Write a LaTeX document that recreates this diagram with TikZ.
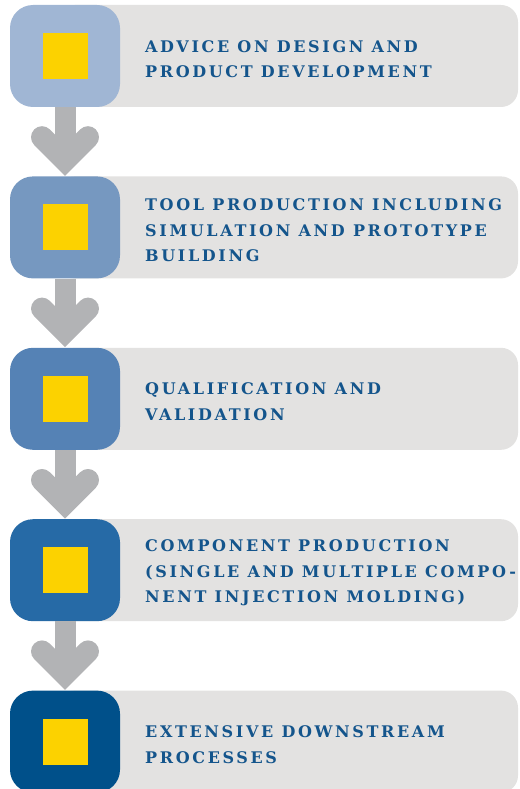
\documentclass[tikz,border=0pt]{standalone}
\usepackage{fontspec}
\newfontfamily\stagefont{DejaVu Serif}[LetterSpace=16.5]
\usetikzlibrary{positioning}

\definecolor{panelgrey}{HTML}{E3E2E1}
\definecolor{arrowgrey}{HTML}{B2B3B5}
\definecolor{markeryellow}{HTML}{FCD200}
\definecolor{textblue}{HTML}{14558C}
\definecolor{stageA}{HTML}{A0B6D4}
\definecolor{stageB}{HTML}{7698C0}
\definecolor{stageC}{HTML}{5582B5}
\definecolor{stageD}{HTML}{266AA6}
\definecolor{stageE}{HTML}{00508A}

\tikzset{
  panel/.style={fill=panelgrey, rounded corners=17pt, minimum width=460pt, minimum height=102pt, inner sep=0pt},
  stagebox/.style={rounded corners=23pt, minimum width=110pt, minimum height=102pt, inner sep=0pt},
  marker/.style={fill=markeryellow, minimum width=45pt, minimum height=46pt, inner sep=0pt},
  stagetext/.style={anchor=west, align=left, text=textblue, inner sep=0pt,
    font=\stagefont\bfseries\fontsize{16}{25.5}\selectfont},
  shaft/.style={draw=arrowgrey, line width=21pt},
  barb/.style={draw=arrowgrey, line width=22pt, line cap=round, line join=miter}
}

\begin{document}
\begin{tikzpicture}[x=1pt,y=1pt]
\useasboundingbox (0,0) rectangle (519,-789);

\node[panel] (g1) at (288,-56) {};
\node[panel, below=69pt of g1] (g2) {};
\node[panel, below=69pt of g2] (g3) {};
\node[panel, below=69pt of g3] (g4) {};
\node[panel, below=69pt of g4] (g5) {};

\node[stagebox, fill=stageA] (b1) at ([xshift=-223pt]g1.center) {};
\node[stagebox, fill=stageB] (b2) at ([xshift=-223pt]g2.center) {};
\node[stagebox, fill=stageC] (b3) at ([xshift=-223pt]g3.center) {};
\node[stagebox, fill=stageD] (b4) at ([xshift=-223pt]g4.center) {};
\node[stagebox, fill=stageE] (b5) at ([xshift=-223pt]g5.center) {};

\node[marker] (m1) at (b1) {};
\node[marker] (m2) at (b2) {};
\node[marker] (m3) at (b3) {};
\node[marker] (m4) at (b4) {};
\node[marker] (m5) at (b5) {};

\coordinate (t2) at ([yshift=16pt]b2.north);
\coordinate (t3) at ([yshift=16pt]b3.north);
\coordinate (t4) at ([yshift=16pt]b4.north);
\coordinate (t5) at ([yshift=16pt]b5.north);

\draw[shaft] (b1.south) -- (t2);
\draw[barb] ([shift={(-23,23)}]t2) -- (t2) -- ([shift={(23,23)}]t2);
\draw[shaft] (b2.south) -- (t3);
\draw[barb] ([shift={(-23,23)}]t3) -- (t3) -- ([shift={(23,23)}]t3);
\draw[shaft] (b3.south) -- (t4);
\draw[barb] ([shift={(-23,23)}]t4) -- (t4) -- ([shift={(23,23)}]t4);
\draw[shaft] (b4.south) -- (t5);
\draw[barb] ([shift={(-23,23)}]t5) -- (t5) -- ([shift={(23,23)}]t5);

\node[stagetext] (s1) at ([xshift=-143pt, yshift=-3pt]g1.center) {ADVICE ON DESIGN AND\\PRODUCT DEVELOPMENT};
\node[stagetext] (s2) at ([xshift=-143pt, yshift=-3pt]g2.center) {TOOL PRODUCTION INCLUDING\\SIMULATION AND PROTOTYPE\\BUILDING};
\node[stagetext] (s3) at ([xshift=-143pt, yshift=-3pt]g3.center) {QUALIFICATION AND\\VALIDATION};
\node[stagetext] (s4) at ([xshift=-143pt, yshift=-3pt]g4.center) {COMPONENT PRODUCTION\\(SINGLE AND MULTIPLE COMPO-\\NENT INJECTION MOLDING)};
\node[stagetext] (s5) at ([xshift=-143pt, yshift=-3pt]g5.center) {EXTENSIVE DOWNSTREAM\\PROCESSES};
\end{tikzpicture}
\end{document}
